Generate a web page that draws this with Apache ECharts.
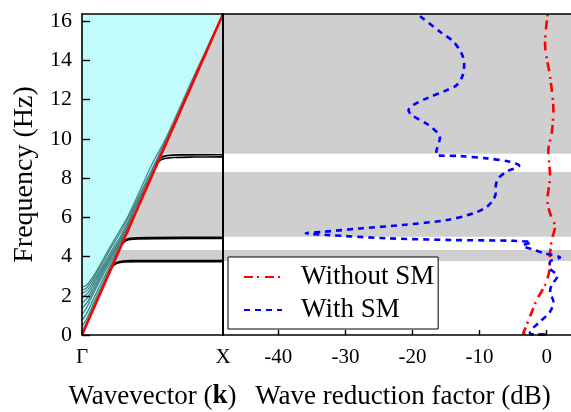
<!DOCTYPE html>
<html>
<head>
<meta charset="utf-8">
<script src="https://cdn.jsdelivr.net/npm/echarts@6/dist/echarts.min.js"></script>
<style>
  html, body { margin: 0; padding: 0; background: #fff; }
  #chart { width: 571px; height: 412px; }
</style>
</head>
<body>
<div id="chart"></div>
<script>
// ---- data ----
const freqTicks = [0, 2, 4, 6, 8, 10, 12, 14, 16];
const dbTicks = [-40, -30, -20, -10, 0];
const kTicks = [0, 1];
const kLabels = ['Γ', 'X'];
const freqMax = 16.36;
const dbMin = -48.24;
const dbMax = 3.62;

// light line from Γ to X  [k, Hz]
const lightLine = [[0, 0], [1, 16.36]];

// pass bands (grey), [from Hz, to Hz]
const passBands = [[3.77, 4.33], [5.01, 8.31], [9.24, 16.36]];

// flat branches under the light line [k, Hz]
const flatA1 = [[0.195, 3.2], [0.215, 3.5], [0.24, 3.68], [0.28, 3.76], [0.36, 3.79], [0.5, 3.8], [1, 3.8]];
const flatA2 = [[0.2, 3.28], [0.22, 3.52], [0.25, 3.66], [0.3, 3.72], [0.4, 3.74], [1, 3.74]];
const flatB1 = [[0.275, 4.5], [0.29, 4.72], [0.31, 4.86], [0.35, 4.94], [0.45, 4.97], [1, 4.98]];
const flatB2 = [[0.28, 4.58], [0.3, 4.75], [0.33, 4.85], [0.4, 4.9], [0.55, 4.91], [1, 4.92]];
const flatC1 = [[0.525, 8.59], [0.54, 8.88], [0.56, 9.05], [0.6, 9.14], [0.7, 9.18], [1, 9.19]];
const flatC2 = [[0.53, 8.67], [0.55, 8.88], [0.58, 8.99], [0.65, 9.05], [0.8, 9.07], [1, 9.08]];

// radiating branches above the light line [k, Hz]
const teal1 = [[0, 2.45], [0.03, 2.52], [0.06, 2.78], [0.1, 3.22], [0.15, 3.85], [0.2, 4.5], [0.27, 5.35], [0.33, 6.1], [0.41, 7.35], [0.5, 8.75], [0.6, 10.1], [0.8, 13.3], [1, 16.36]];
const teal2 = [[0, 2.3], [0.03, 2.38], [0.06, 2.65], [0.1, 3.1], [0.15, 3.72], [0.2, 4.38], [0.27, 5.2], [0.35, 6.3], [0.45, 7.75], [0.6, 10.0], [1, 16.36]];
const teal3 = [[0, 2.12], [0.04, 2.3], [0.08, 2.72], [0.12, 3.2], [0.17, 3.8], [0.22, 4.42], [0.28, 5.12], [0.36, 6.3], [0.5, 8.4], [1, 16.36]];
const teal4 = [[0, 1.9], [0.04, 2.12], [0.08, 2.58], [0.12, 3.08], [0.17, 3.68], [0.22, 4.3], [0.28, 5.0], [0.36, 6.2], [0.5, 8.35], [1, 16.36]];
const teal5 = [[0, 1.62], [0.04, 1.92], [0.08, 2.42], [0.12, 2.95], [0.17, 3.58], [0.22, 4.2], [0.28, 4.92], [0.36, 6.12], [0.5, 8.3]];
const teal6 = [[0, 1.35], [0.04, 1.7], [0.08, 2.25], [0.12, 2.82], [0.17, 3.48], [0.22, 4.1], [0.28, 4.85], [0.36, 6.05]];
const teal7 = [[0, 1.05], [0.03, 1.35], [0.06, 1.8], [0.1, 2.4], [0.15, 3.08], [0.2, 3.72], [0.25, 4.35], [0.3, 5.1], [0.36, 6.0]];
const teal8 = [[0, 0.75], [0.03, 1.05], [0.06, 1.5], [0.1, 2.12], [0.15, 2.85], [0.2, 3.55], [0.25, 4.25], [0.3, 5.02]];
const teal9 = [[0, 0.45], [0.03, 0.78], [0.06, 1.25], [0.1, 1.9], [0.15, 2.68], [0.2, 3.45], [0.25, 4.2]];
const teal10 = [[0, 0.2], [0.03, 0.6], [0.06, 1.1], [0.1, 1.78], [0.15, 2.56], [0.2, 3.36]];

// wave reduction factor [dB, Hz]
const withoutSM = [[0, 0.02], [-3.5, 0.08], [-3.3, 0.25], [-2.5, 0.93], [-1.5, 1.78], [-0.25, 2.55], [0.4, 3.31], [0.5, 4.16], [0.74, 4.84], [1.24, 5.52], [0.5, 6.2], [0.1, 6.88], [0.5, 8.07], [0.25, 9.43], [0.74, 10.28], [1.0, 11.46], [0.5, 13.16], [-0.25, 14.86], [0.15, 16.36]];
const withSM = [[-0.3, 0.02], [-2.4, 0.04], [-2.5, 0.1], [-2.2, 0.3], [-1.0, 0.68], [0.5, 1.19], [1.0, 1.7], [0.5, 2.2], [0.74, 2.55], [1.6, 3.0], [0.4, 3.45], [0.5, 3.74], [2.0, 3.95], [-0.3, 4.16], [-2.0, 4.35], [-3.6, 4.55], [-2.3, 4.72], [-5.0, 4.8], [-13.9, 4.84], [-23.8, 4.93], [-32.8, 5.1], [-35.9, 5.18], [-33.3, 5.26], [-27.8, 5.43], [-21.4, 5.61], [-14.9, 5.86], [-10.9, 6.2], [-8.9, 6.54], [-8.0, 6.88], [-7.6, 7.22], [-7.6, 7.56], [-7.2, 7.98], [-6.0, 8.32], [-4.1, 8.63], [-5.5, 8.83], [-8.9, 9.0], [-12.9, 9.12], [-16.5, 9.17], [-16.4, 9.43], [-15.9, 10.1], [-16.2, 10.28], [-17.6, 10.7], [-20.1, 11.21], [-20.6, 11.46], [-19.9, 11.72], [-17.9, 12.06], [-14.9, 12.48], [-13.4, 12.74], [-12.5, 13.25], [-12.3, 13.84], [-12.7, 14.35], [-13.9, 14.95], [-15.9, 15.46], [-19.3, 16.36]];

const serif = 'Liberation Serif';
const GREY = '#cfcfcf';
const TEAL = '#448686';

const chart = echarts.init(document.getElementById('chart'));

const kEnd = lightLine[1][0];
const slope = lightLine[1][1] / lightLine[1][0];

function leftBand(params, api) {
  const f1 = api.value(0), f2 = api.value(1);
  return {
    type: 'polygon',
    shape: { points: [api.coord([f1 / slope, f1]), api.coord([kEnd, f1]), api.coord([kEnd, f2]), api.coord([f2 / slope, f2])] },
    style: { fill: GREY }
  };
}
function rightBand(params, api) {
  const f1 = api.value(0), f2 = api.value(1);
  return {
    type: 'polygon',
    shape: { points: [api.coord([dbMin, f1]), api.coord([dbMax, f1]), api.coord([dbMax, f2]), api.coord([dbMin, f2])] },
    style: { fill: GREY }
  };
}
function radiationCone(params, api) {
  return {
    type: 'polygon',
    shape: { points: [api.coord(lightLine[0]), api.coord(lightLine[1]), api.coord([lightLine[0][0], freqMax])] },
    style: { fill: '#c0fcfc' }
  };
}

function curve(data, color, width) {
  return {
    type: 'line', xAxisIndex: 0, yAxisIndex: 0, data: data,
    showSymbol: false, symbol: 'none', smooth: 0.3, silent: true,
    lineStyle: { color: color, width: width }
  };
}

const tealSeries = [teal10, teal9, teal8, teal7, teal6, teal5, teal4, teal3, teal2, teal1].map(d => curve(d, TEAL, 1.3));
const flatSeries = [flatA1, flatA2, flatB1, flatB2, flatC1, flatC2].map(d => curve(d, '#000', 1.6));

const axisLine = { show: true, onZero: false, lineStyle: { color: '#000', width: 1.6 } };
const plainAxis = {
  axisTick: { show: false }, axisLabel: { show: false }, splitLine: { show: false }
};

const option = {
  animation: false,
  backgroundColor: '#fff',
  textStyle: { fontFamily: serif },
  grid: [
    { left: 82, top: 14, width: 141, height: 321, outerBoundsMode: 'none', containLabel: false },
    { left: 223, top: 14, width: 348, height: 321, outerBoundsMode: 'none', containLabel: false }
  ],
  legend: {
    data: ['Without SM', 'With SM'],
    orient: 'vertical',
    left: 228, top: 257,
    itemWidth: 38, itemHeight: 14, itemGap: 3,
    backgroundColor: '#fff', borderColor: '#000', borderWidth: 1, borderRadius: 0,
    padding: [5, 4, 4, 15],
    itemStyle: { color: 'rgba(0,0,0,0)', borderColor: 'rgba(0,0,0,0)', borderWidth: 0, opacity: 0 },
    textStyle: { fontFamily: serif, fontSize: 27, color: '#000', lineHeight: 30, padding: [0, 0, 0, 14] }
  },
  xAxis: [
    {
      gridIndex: 0, type: 'value', min: 0, max: 1, position: 'bottom', z: 10,
      axisLine: axisLine, splitLine: { show: false },
      axisTick: { show: false },
      axisLabel: {
        customValues: kTicks, margin: 12, fontFamily: serif, fontSize: 21, color: '#000',
        formatter: v => kLabels[kTicks.indexOf(v)]
      },
      name: '{a|Wavevector (}{b|k}{a|)}', nameLocation: 'middle', nameGap: 48,
      nameTextStyle: { rich: { a: { fontFamily: serif, fontSize: 27, color: '#000' }, b: { fontFamily: serif, fontSize: 27, fontWeight: 'bold', color: '#000' } } }
    },
    {
      gridIndex: 1, type: 'value', min: dbMin, max: dbMax, position: 'bottom', z: 10,
      axisLine: axisLine, splitLine: { show: false },
      axisTick: { customValues: dbTicks, inside: true, length: 5, lineStyle: { color: '#000', width: 1.4 } },
      axisLabel: { customValues: dbTicks, margin: 12, fontFamily: serif, fontSize: 21, color: '#000' },
      name: 'Wave reduction factor (dB)', nameLocation: 'middle', nameGap: 48,
      nameTextStyle: { fontFamily: serif, fontSize: 27, color: '#000', padding: [0, 0, 0, 12] }
    },
    Object.assign({ gridIndex: 0, type: 'value', min: 0, max: 1, position: 'top', z: 10, axisLine: axisLine }, plainAxis),
    Object.assign({ gridIndex: 1, type: 'value', min: dbMin, max: dbMax, position: 'top', z: 10, axisLine: axisLine }, plainAxis)
  ],
  yAxis: [
    {
      gridIndex: 0, type: 'value', min: 0, max: freqMax, position: 'left', z: 10,
      axisLine: axisLine, splitLine: { show: false },
      axisTick: { customValues: freqTicks, inside: true, length: 8, lineStyle: { color: '#000', width: 1.4 } },
      axisLabel: { customValues: freqTicks, margin: 10, fontFamily: serif, fontSize: 22, color: '#000' },
      name: 'Frequency (Hz)', nameLocation: 'middle', nameGap: 43,
      nameTextStyle: { fontFamily: serif, fontSize: 28, color: '#000' }
    },
    Object.assign({
      gridIndex: 1, type: 'value', min: 0, max: freqMax, position: 'left', z: 10,
      axisLine: { show: true, onZero: false, lineStyle: { color: '#000', width: 2 } }
    }, plainAxis)
  ],
  series: [
    { type: 'custom', xAxisIndex: 0, yAxisIndex: 0, data: [lightLine[1]], renderItem: radiationCone, silent: true, clip: true, z: 1 },
    { type: 'custom', xAxisIndex: 0, yAxisIndex: 0, data: passBands, renderItem: leftBand, silent: true, clip: true, z: 1 },
    { type: 'custom', xAxisIndex: 1, yAxisIndex: 1, data: passBands, renderItem: rightBand, silent: true, clip: true, z: 1 },
    ...tealSeries,
    ...flatSeries,
    {
      type: 'line', xAxisIndex: 0, yAxisIndex: 0, data: lightLine, symbol: 'none', silent: true,
      lineStyle: { color: '#ff0000', width: 2.5 }, z: 3
    },
    {
      name: 'Without SM', type: 'line', xAxisIndex: 1, yAxisIndex: 1, data: withoutSM,
      symbol: 'none', smooth: 0.3, color: '#ff0000',
      lineStyle: { color: '#ff0000', width: 2.6, type: [9, 4, 2, 6] }, z: 3
    },
    {
      name: 'With SM', type: 'line', xAxisIndex: 1, yAxisIndex: 1, data: withSM,
      symbol: 'none', smooth: 0.3, color: '#0000ff',
      lineStyle: { color: '#0000ff', width: 2.6, type: [6, 5] }, z: 3
    }
  ]
};

chart.setOption(option);
</script>
</body>
</html>
